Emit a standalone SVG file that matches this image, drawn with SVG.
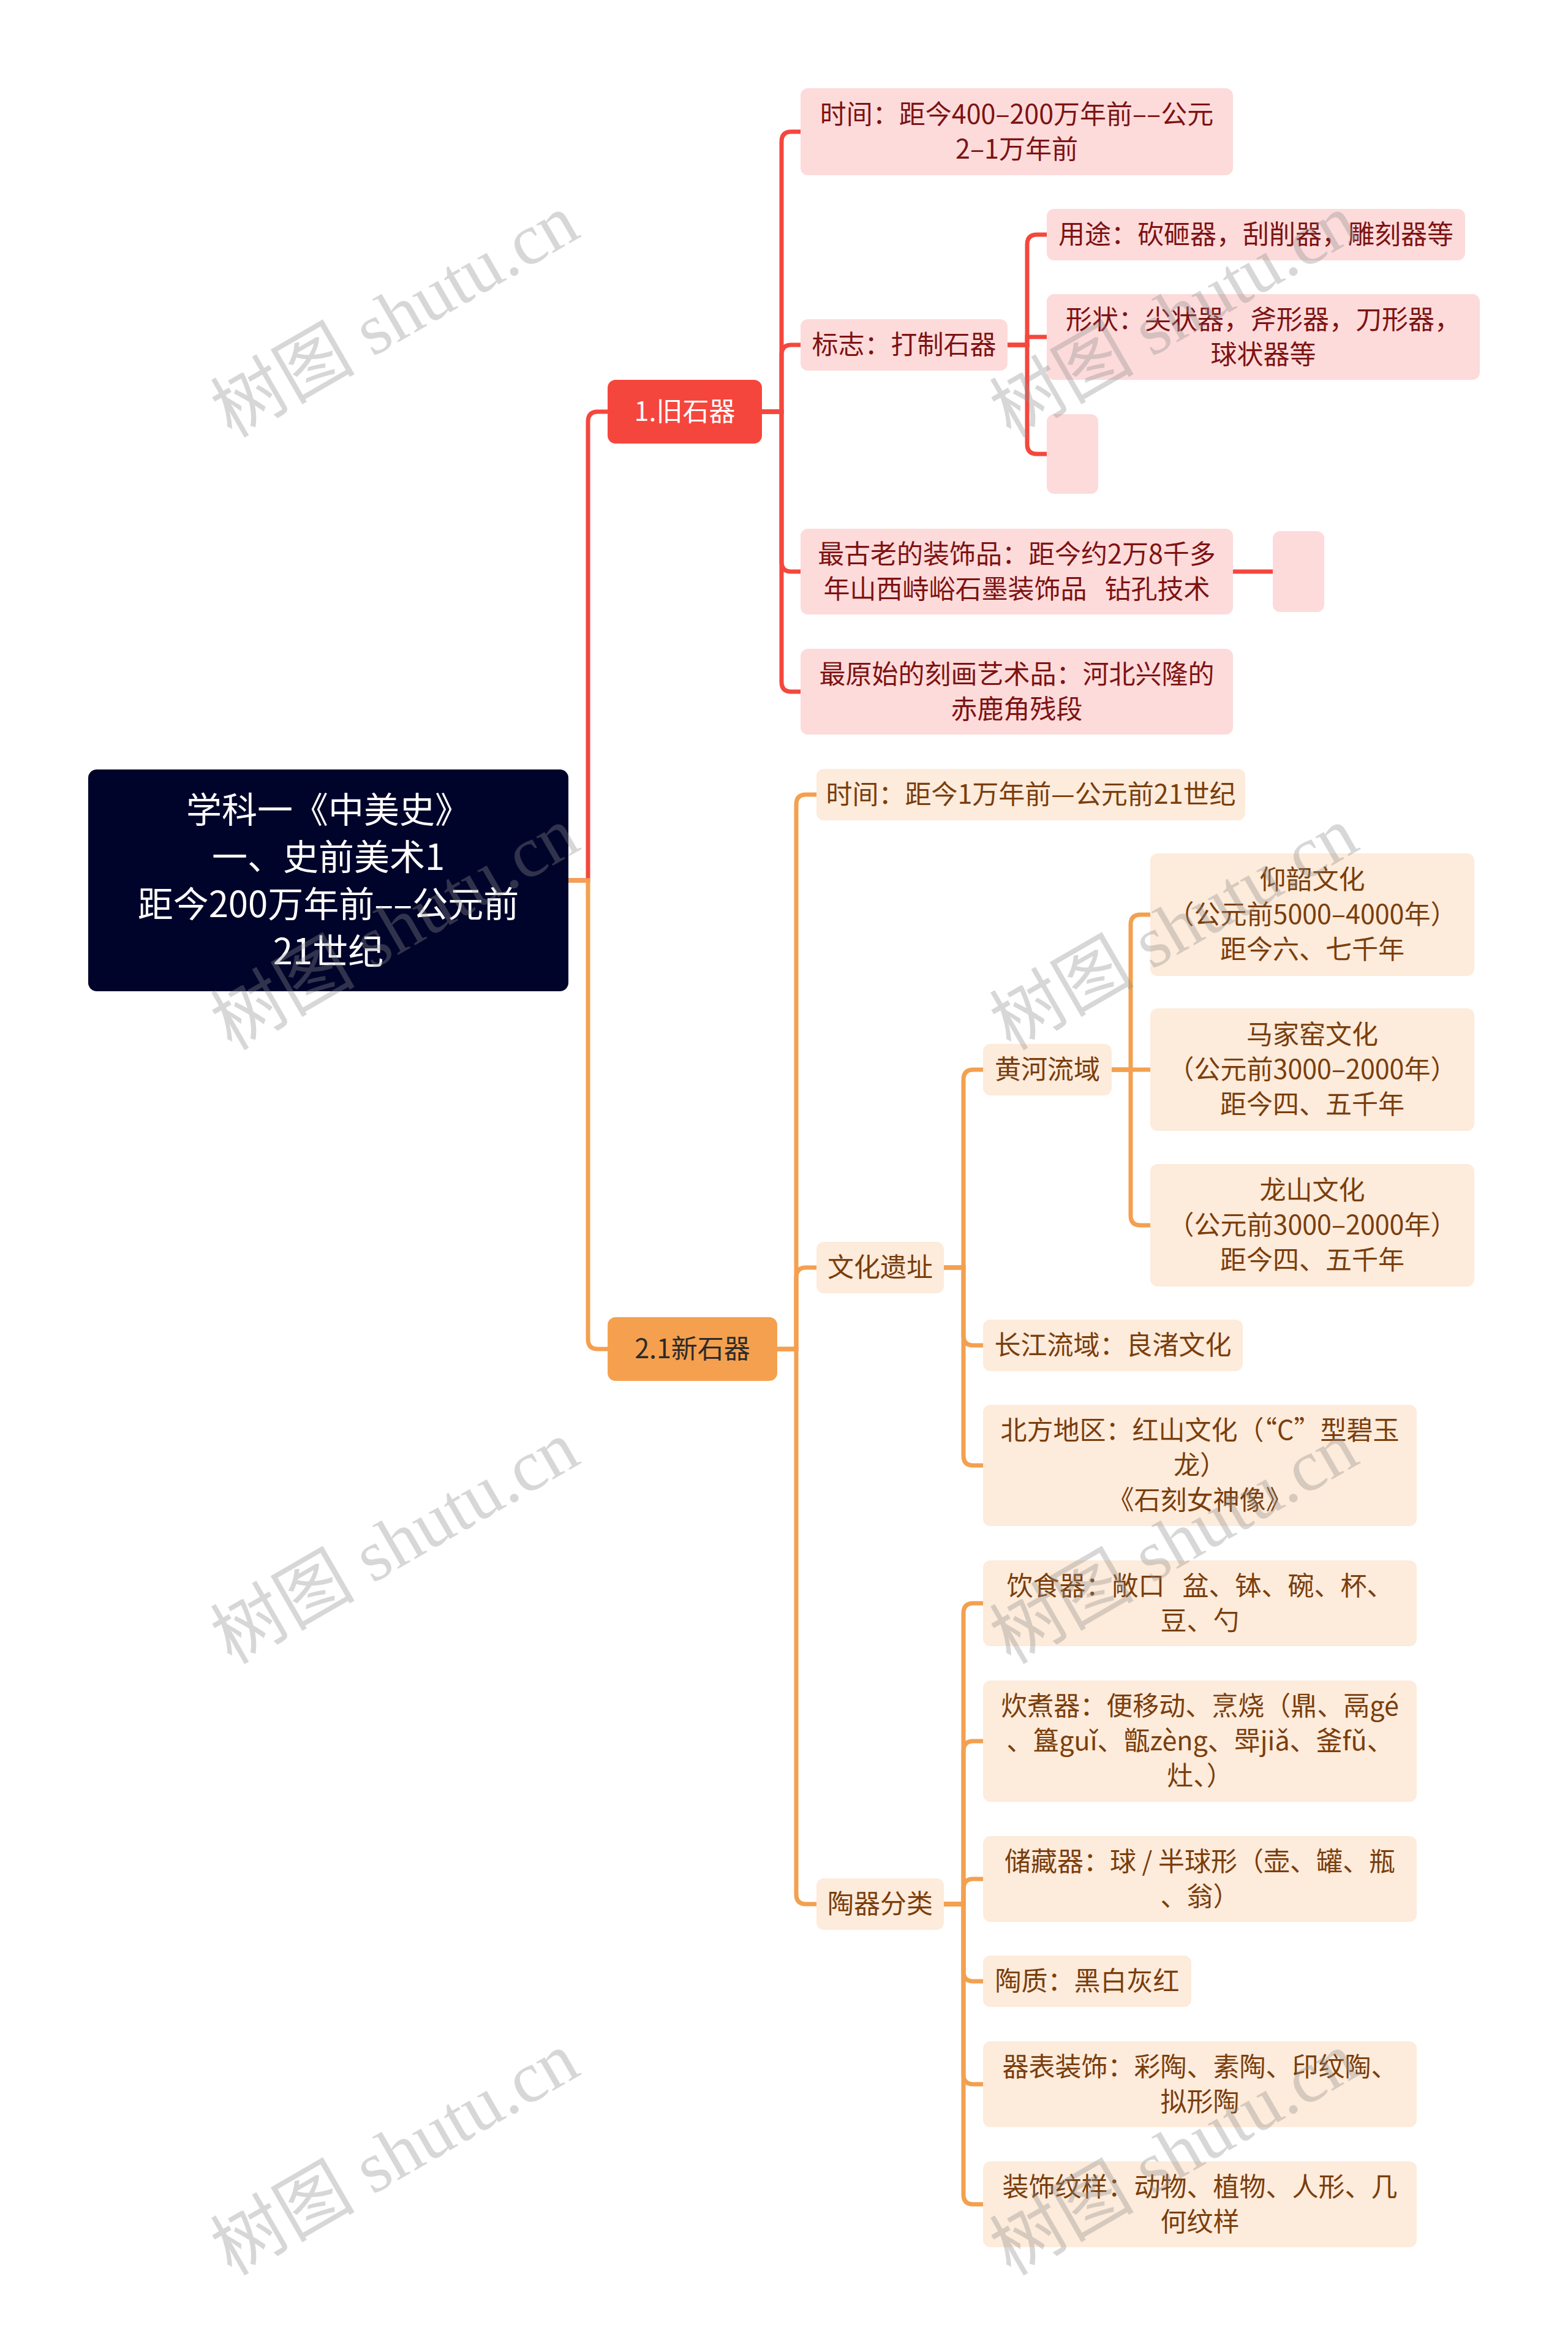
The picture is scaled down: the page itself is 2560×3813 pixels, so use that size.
<svg xmlns="http://www.w3.org/2000/svg" width="2560" height="3813" viewBox="0 0 2560 3813">
<style>
.t{font-family:"Noto Sans CJK SC","Noto Sans",sans-serif;font-size:43px;text-anchor:middle;dominant-baseline:central;transform:translate(0px,-4px)}
.rt{fill:#7d1313}
.ot{fill:#7a3e0d}
.pn{fill:#fddbdb}
.on{fill:#fdebdb}
.cr{fill:none;stroke:#f4473e;stroke-width:7}
.co{fill:none;stroke:#f3a04f;stroke-width:7}
.wm{font-family:"Liberation Serif","Noto Sans CJK SC",serif;font-size:118px;fill:#8c8c8c;fill-opacity:0.35;text-anchor:middle;dominant-baseline:central}
</style>
<rect x="0" y="0" width="2560" height="3813" fill="#ffffff"/>
<g id="connectors">
<path class="cr" d="M928,1437 H960 V688 Q960,672 976,672 H992"/>
<path class="cr" d="M1244,672 H1276 V231 Q1276,215 1292,215 H1307"/>
<path class="cr" d="M1244,672 H1276 V579 Q1276,563 1292,563 H1307"/>
<path class="cr" d="M1244,672 H1276 V917 Q1276,933 1292,933 H1307"/>
<path class="cr" d="M1244,672 H1276 V1113 Q1276,1129 1292,1129 H1307"/>
<path class="cr" d="M1645,563 H1677 V399 Q1677,383 1693,383 H1709"/>
<path class="cr" d="M1645,563 H1677 V550 H1709"/>
<path class="cr" d="M1645,563 H1677 V725 Q1677,741 1693,741 H1709"/>
<path class="cr" d="M2013,933 H2078"/>
<path class="co" d="M928,1437 H960 V2186 Q960,2202 976,2202 H992"/>
<path class="co" d="M1269,2202 H1300 V1313 Q1300,1297 1316,1297 H1333"/>
<path class="co" d="M1269,2202 H1300 V2085 Q1300,2069 1316,2069 H1333"/>
<path class="co" d="M1269,2202 H1300 V3092 Q1300,3108 1316,3108 H1333"/>
<path class="co" d="M1541,2069 H1573 V1762 Q1573,1746 1589,1746 H1605"/>
<path class="co" d="M1541,2069 H1573 V2180 Q1573,2196 1589,2196 H1605"/>
<path class="co" d="M1541,2069 H1573 V2376 Q1573,2392 1589,2392 H1605"/>
<path class="co" d="M1815,1746 H1846 V1509 Q1846,1493 1862,1493 H1878"/>
<path class="co" d="M1815,1746 H1878"/>
<path class="co" d="M1815,1746 H1846 V1984 Q1846,2000 1862,2000 H1878"/>
<path class="co" d="M1541,3108 H1573 V2633 Q1573,2617 1589,2617 H1605"/>
<path class="co" d="M1541,3108 H1573 V2858 Q1573,2842 1589,2842 H1605"/>
<path class="co" d="M1541,3108 H1573 V3083 Q1573,3067 1589,3067 H1605"/>
<path class="co" d="M1541,3108 H1573 V3218 Q1573,3234 1589,3234 H1605"/>
<path class="co" d="M1541,3108 H1573 V3386 Q1573,3402 1589,3402 H1605"/>
<path class="co" d="M1541,3108 H1573 V3582 Q1573,3598 1589,3598 H1605"/>
</g>
<g id="root">
<rect x="144" y="1256" width="784" height="362" rx="14" fill="#01042a"/>
<text class="t" style="font-size:58px" fill="#ffffff"><tspan x="536" y="1321.5">学科一《中美史》</tspan><tspan x="536" y="1398.5">一、史前美术1</tspan><tspan x="536" y="1475.5">距今200万年前––公元前</tspan><tspan x="536" y="1552.5">21世纪</tspan></text>
</g>
<g id="n1">
<rect x="992" y="620" width="252" height="104" rx="13" fill="#f5463d"/>
<text class="t" fill="#ffffff" x="1118" y="672">1.旧石器</text>
</g>
<g id="n1a">
<rect class="pn" x="1307" y="144" width="706" height="142" rx="12"/>
<text class="t rt"><tspan x="1660" y="186.5">时间：距今400–200万年前––公元</tspan><tspan x="1660" y="243.5">2–1万年前</tspan></text>
</g>
<g id="n1b">
<rect class="pn" x="1307" y="521" width="338" height="84" rx="12"/>
<text class="t rt" x="1476" y="563">标志：打制石器</text>
</g>
<g id="n1b1">
<rect class="pn" x="1709" y="341" width="683" height="84" rx="12"/>
<text class="t rt" x="2050.5" y="383">用途：砍砸器，刮削器，雕刻器等</text>
</g>
<g id="n1b2">
<rect class="pn" x="1709" y="480" width="707" height="140" rx="12"/>
<text class="t rt"><tspan x="2062.5" y="521.5">形状：尖状器，斧形器，刀形器，</tspan><tspan x="2062.5" y="578.5">球状器等</tspan></text>
</g>
<g id="n1b3">
<rect class="pn" x="1709" y="676" width="84" height="130" rx="12"/>
</g>
<g id="n1c">
<rect class="pn" x="1307" y="863" width="706" height="140" rx="12"/>
<text class="t rt"><tspan x="1660" y="904.5">最古老的装饰品：距今约2万8千多</tspan><tspan x="1660" y="961.5">年山西峙峪石墨装饰品&#160;&#160;&#160;钻孔技术</tspan></text>
</g>
<g id="n1c1">
<rect class="pn" x="2078" y="867" width="84" height="132" rx="12"/>
</g>
<g id="n1d">
<rect class="pn" x="1307" y="1059" width="706" height="140" rx="12"/>
<text class="t rt"><tspan x="1660" y="1100.5">最原始的刻画艺术品：河北兴隆的</tspan><tspan x="1660" y="1157.5">赤鹿角残段</tspan></text>
</g>
<g id="n2">
<rect x="992" y="2150" width="277" height="104" rx="13" fill="#f5a04e"/>
<text class="t" fill="#2b2b2b" x="1130.5" y="2202">2.1新石器</text>
</g>
<g id="n2a">
<rect class="on" x="1333" y="1255" width="700" height="84" rx="12"/>
<text class="t ot" x="1683" y="1297">时间：距今1万年前—公元前21世纪</text>
</g>
<g id="n2b">
<rect class="on" x="1333" y="2027" width="208" height="84" rx="12"/>
<text class="t ot" x="1437" y="2069">文化遗址</text>
</g>
<g id="n2b1">
<rect class="on" x="1605" y="1704" width="210" height="84" rx="12"/>
<text class="t ot" x="1710" y="1746">黄河流域</text>
</g>
<g id="n2b1a">
<rect class="on" x="1878" y="1393" width="529" height="200" rx="12"/>
<text class="t ot"><tspan x="2142.5" y="1436">仰韶文化</tspan><tspan x="2142.5" y="1493">（公元前5000–4000年）</tspan><tspan x="2142.5" y="1550">距今六、七千年</tspan></text>
</g>
<g id="n2b1b">
<rect class="on" x="1878" y="1646" width="529" height="200" rx="12"/>
<text class="t ot"><tspan x="2142.5" y="1689">马家窑文化</tspan><tspan x="2142.5" y="1746">（公元前3000–2000年）</tspan><tspan x="2142.5" y="1803">距今四、五千年</tspan></text>
</g>
<g id="n2b1c">
<rect class="on" x="1878" y="1900" width="529" height="200" rx="12"/>
<text class="t ot"><tspan x="2142.5" y="1943">龙山文化</tspan><tspan x="2142.5" y="2000">（公元前3000–2000年）</tspan><tspan x="2142.5" y="2057">距今四、五千年</tspan></text>
</g>
<g id="n2b2">
<rect class="on" x="1605" y="2154" width="424" height="84" rx="12"/>
<text class="t ot" x="1817" y="2196">长江流域：良渚文化</text>
</g>
<g id="n2b3">
<rect class="on" x="1605" y="2293" width="708" height="198" rx="12"/>
<text class="t ot"><tspan x="1959" y="2335">北方地区：红山文化（“C”型碧玉</tspan><tspan x="1959" y="2392">龙）</tspan><tspan x="1959" y="2449">《石刻女神像》</tspan></text>
</g>
<g id="n2c">
<rect class="on" x="1333" y="3066" width="208" height="84" rx="12"/>
<text class="t ot" x="1437" y="3108">陶器分类</text>
</g>
<g id="n2c1">
<rect class="on" x="1605" y="2547" width="708" height="140" rx="12"/>
<text class="t ot"><tspan x="1959" y="2588.5">饮食器：敞口&#160;&#160;&#160;盆、钵、碗、杯、</tspan><tspan x="1959" y="2645.5">豆、勺</tspan></text>
</g>
<g id="n2c2">
<rect class="on" x="1605" y="2743" width="708" height="198" rx="12"/>
<text class="t ot"><tspan x="1959" y="2785">炊煮器：便移动、烹烧（鼎、鬲gé</tspan><tspan x="1959" y="2842">、簋guǐ、甑zèng、斝jiǎ、釜fǔ、</tspan><tspan x="1959" y="2899">灶、）</tspan></text>
</g>
<g id="n2c3">
<rect class="on" x="1605" y="2997" width="708" height="140" rx="12"/>
<text class="t ot"><tspan x="1959" y="3038.5">储藏器：球 / 半球形（壶、罐、瓶</tspan><tspan x="1959" y="3095.5">、翁）</tspan></text>
</g>
<g id="n2c4">
<rect class="on" x="1605" y="3192" width="340" height="84" rx="12"/>
<text class="t ot" x="1775" y="3234">陶质：黑白灰红</text>
</g>
<g id="n2c5">
<rect class="on" x="1605" y="3332" width="708" height="140" rx="12"/>
<text class="t ot"><tspan x="1959" y="3373.5">器表装饰：彩陶、素陶、印纹陶、</tspan><tspan x="1959" y="3430.5">拟形陶</tspan></text>
</g>
<g id="n2c6">
<rect class="on" x="1605" y="3528" width="708" height="140" rx="12"/>
<text class="t ot"><tspan x="1959" y="3569.5">装饰纹样：动物、植物、人形、几</tspan><tspan x="1959" y="3626.5">何纹样</tspan></text>
</g>
<g id="watermarks">
<text class="wm" x="645" y="516" transform="rotate(-30 645 516)">树图 shutu.cn</text>
<text class="wm" x="1917" y="516" transform="rotate(-30 1917 516)">树图 shutu.cn</text>
<text class="wm" x="645" y="1516" transform="rotate(-30 645 1516)">树图 shutu.cn</text>
<text class="wm" x="1917" y="1516" transform="rotate(-30 1917 1516)">树图 shutu.cn</text>
<text class="wm" x="645" y="2518" transform="rotate(-30 645 2518)">树图 shutu.cn</text>
<text class="wm" x="1917" y="2518" transform="rotate(-30 1917 2518)">树图 shutu.cn</text>
<text class="wm" x="645" y="3516" transform="rotate(-30 645 3516)">树图 shutu.cn</text>
<text class="wm" x="1917" y="3516" transform="rotate(-30 1917 3516)">树图 shutu.cn</text>
</g>
</svg>
